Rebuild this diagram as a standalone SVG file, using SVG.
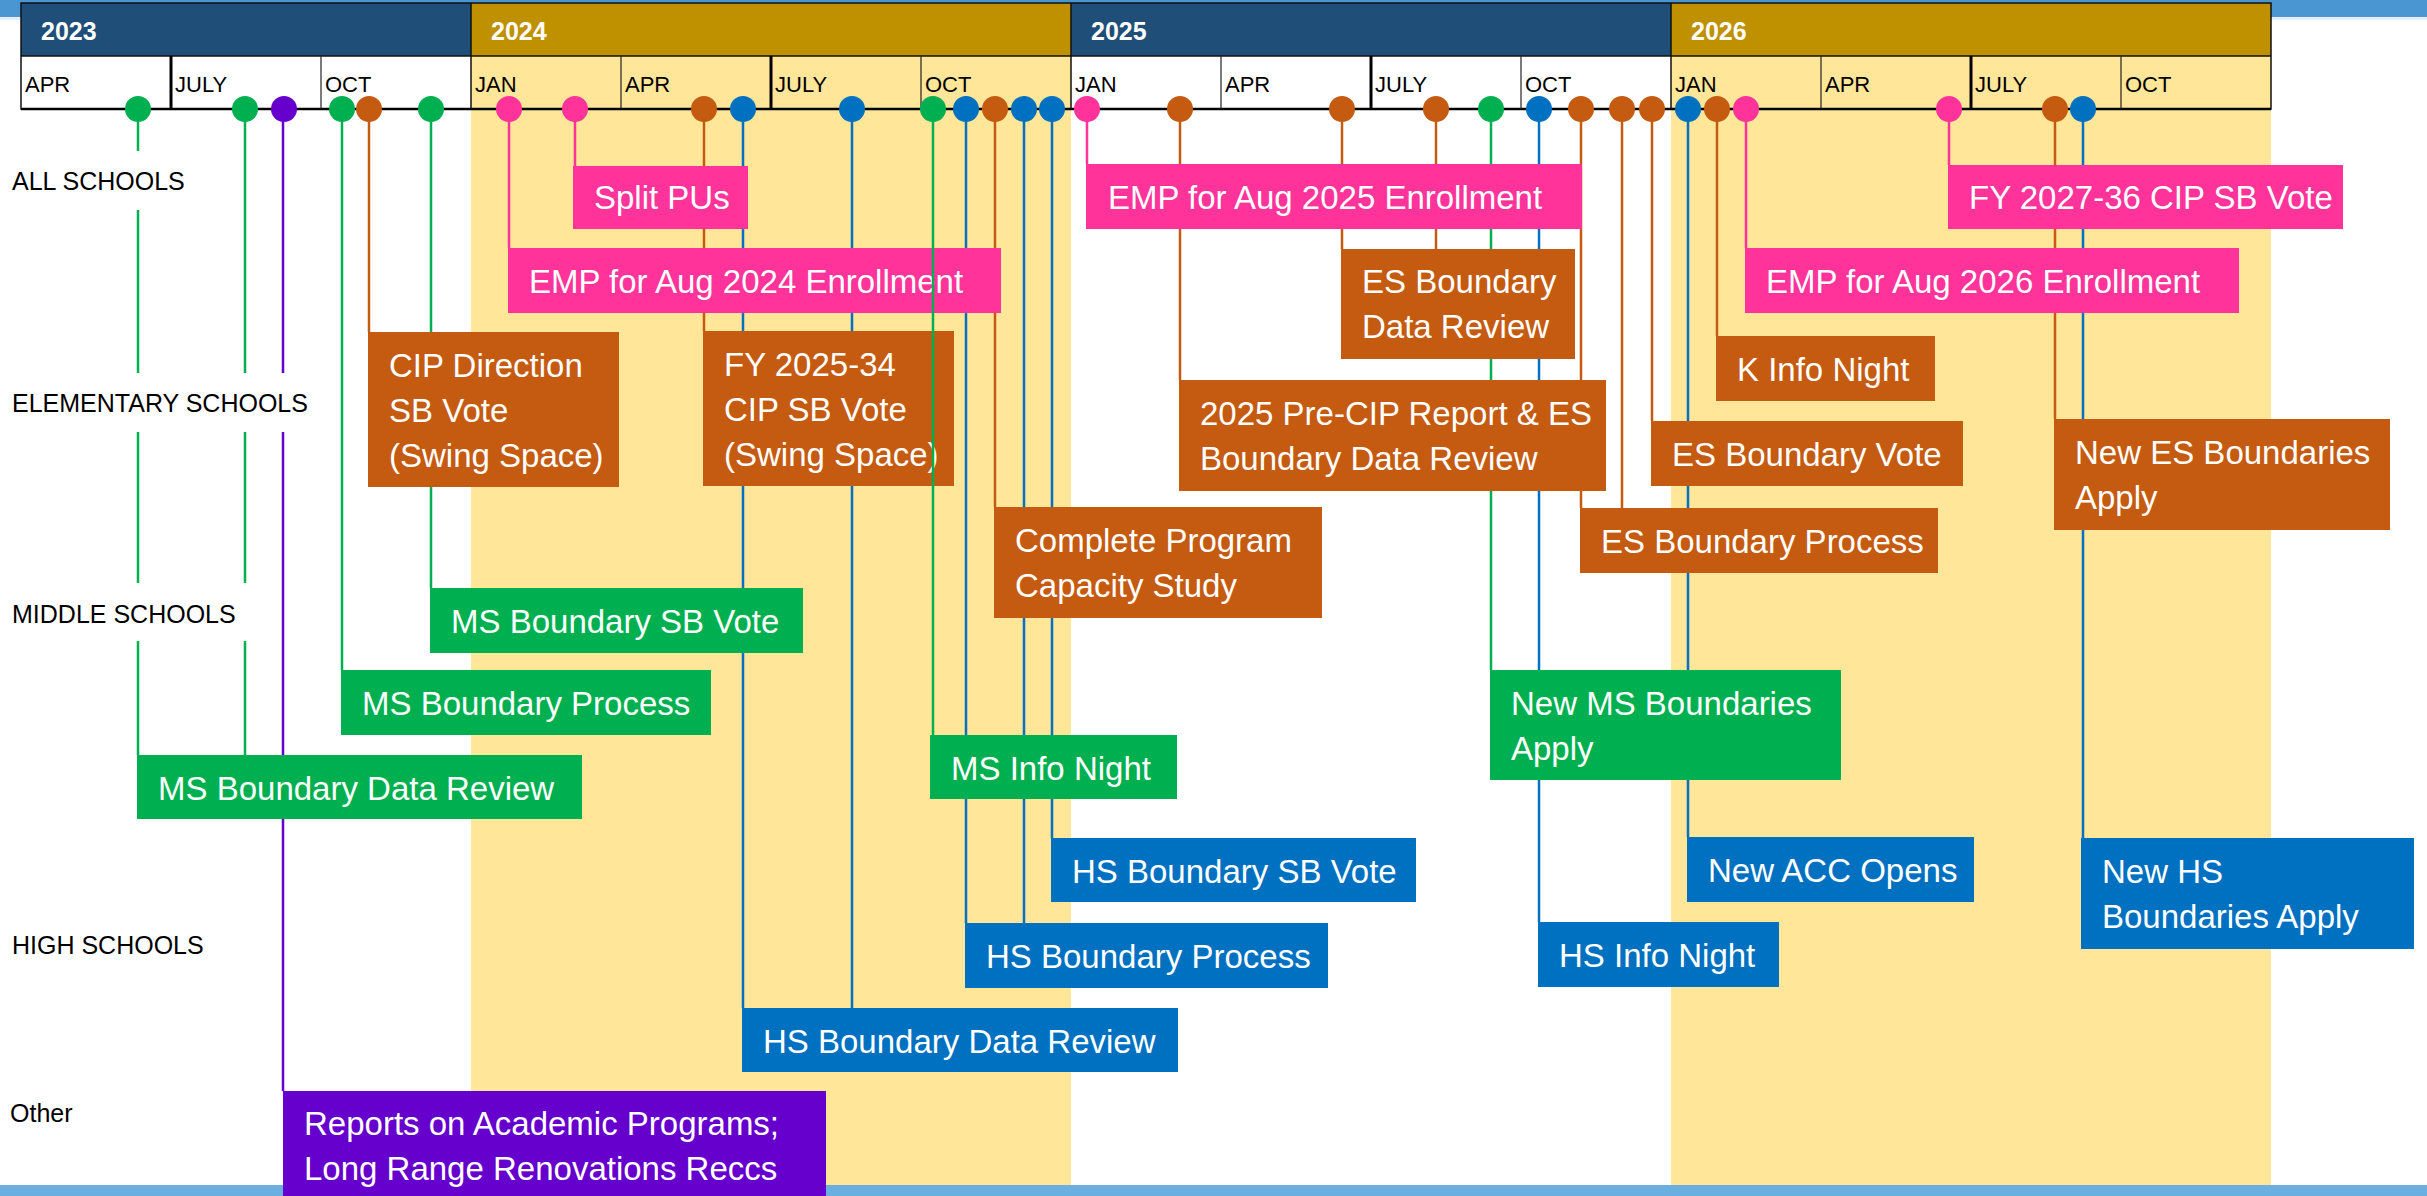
<svg xmlns="http://www.w3.org/2000/svg" width="2427" height="1196" viewBox="0 0 2427 1196">
<style>
.yr{font-family:"Liberation Sans",Arial,sans-serif;font-weight:bold;font-size:25px;fill:#fff}
.mo{font-family:"Liberation Sans",Arial,sans-serif;font-size:22px;fill:#000}
.row{font-family:"Liberation Sans",Arial,sans-serif;font-size:25px;fill:#000}
.bt{font-family:"Liberation Sans",Arial,sans-serif;font-size:33px;fill:#fff}
.pk{fill:#FF3399}.or{fill:#C55A11}.gr{fill:#00B050}.bl{fill:#0070C0}.pu{fill:#6600CC}
.lpk{stroke:#FF3399}.lor{stroke:#C55A11}.lgr{stroke:#00B050}.lbl{stroke:#0070C0}.lpu{stroke:#6600CC}
#connectors line,#connectors-front line{stroke-width:2.5}
.thin{stroke:#222;stroke-width:1.2}
.thick{stroke:#000;stroke-width:3}
</style>
<rect x="0" y="0" width="2427" height="1196" fill="#fff"/>
<!-- slide bands -->
<rect x="0" y="0" width="2427" height="17" fill="#4A96D2"/>
<rect x="0" y="17" width="2427" height="3" fill="#E6EDF4"/>
<rect x="0" y="1185" width="2427" height="11" fill="#6AAFDF"/>
<!-- highlighted years -->
<rect x="471" y="56" width="600" height="1129" fill="#FFE699"/>
<rect x="1671" y="56" width="600" height="1129" fill="#FFE699"/>
<!-- header -->
<g id="header">
<rect x="21" y="3" width="450" height="53" fill="#1F4E79"/>
<rect x="471" y="3" width="600" height="53" fill="#BF9000"/>
<rect x="1071" y="3" width="600" height="53" fill="#1F4E79"/>
<rect x="1671" y="3" width="600" height="53" fill="#BF9000"/>
<rect x="21" y="56" width="450" height="53" fill="#fff"/>
<rect x="1071" y="56" width="600" height="53" fill="#fff"/>
<rect x="21" y="3" width="2250" height="106" fill="none" stroke="#111" stroke-width="1.5"/>
<line x1="21" y1="56" x2="2271" y2="56" stroke="#111" stroke-width="1.5"/>
<line x1="21" y1="109" x2="2271" y2="109" stroke="#000" stroke-width="2.5"/>
<line x1="471" y1="3" x2="471" y2="109" stroke="#111" stroke-width="1.5"/>
<line x1="1071" y1="3" x2="1071" y2="109" stroke="#111" stroke-width="1.5"/>
<line x1="1671" y1="3" x2="1671" y2="109" stroke="#111" stroke-width="1.5"/>
<line class="thick" x1="171" y1="56" x2="171" y2="109"/>
<line class="thin" x1="321" y1="56" x2="321" y2="109"/>
<line class="thin" x1="621" y1="56" x2="621" y2="109"/>
<line class="thick" x1="771" y1="56" x2="771" y2="109"/>
<line class="thin" x1="921" y1="56" x2="921" y2="109"/>
<line class="thin" x1="1221" y1="56" x2="1221" y2="109"/>
<line class="thick" x1="1371" y1="56" x2="1371" y2="109"/>
<line class="thin" x1="1521" y1="56" x2="1521" y2="109"/>
<line class="thin" x1="1821" y1="56" x2="1821" y2="109"/>
<line class="thick" x1="1971" y1="56" x2="1971" y2="109"/>
<line class="thin" x1="2121" y1="56" x2="2121" y2="109"/>
<text class="yr" x="41" y="40">2023</text>
<text class="yr" x="491" y="40">2024</text>
<text class="yr" x="1091" y="40">2025</text>
<text class="yr" x="1691" y="40">2026</text>
<text class="mo" x="25" y="92">APR</text>
<text class="mo" x="175" y="92">JULY</text>
<text class="mo" x="325" y="92">OCT</text>
<text class="mo" x="475" y="92">JAN</text>
<text class="mo" x="625" y="92">APR</text>
<text class="mo" x="775" y="92">JULY</text>
<text class="mo" x="925" y="92">OCT</text>
<text class="mo" x="1075" y="92">JAN</text>
<text class="mo" x="1225" y="92">APR</text>
<text class="mo" x="1375" y="92">JULY</text>
<text class="mo" x="1525" y="92">OCT</text>
<text class="mo" x="1675" y="92">JAN</text>
<text class="mo" x="1825" y="92">APR</text>
<text class="mo" x="1975" y="92">JULY</text>
<text class="mo" x="2125" y="92">OCT</text>
</g>
<!-- connectors (behind boxes) -->
<g id="connectors">
<line class="lgr" x1="138" y1="109" x2="138" y2="755"/>
<line class="lgr" x1="245" y1="109" x2="245" y2="755"/>
<line class="lpu" x1="283" y1="109" x2="283" y2="1091"/>
<line class="lgr" x1="342" y1="109" x2="342" y2="670"/>
<line class="lor" x1="369" y1="109" x2="369" y2="332"/>
<line class="lgr" x1="431" y1="109" x2="431" y2="588"/>
<line class="lpk" x1="509" y1="109" x2="509" y2="248"/>
<line class="lpk" x1="575" y1="109" x2="575" y2="166"/>
<line class="lor" x1="704" y1="109" x2="704" y2="331"/>
<line class="lbl" x1="743" y1="109" x2="743" y2="1008"/>
<line class="lbl" x1="852" y1="109" x2="852" y2="1008"/>
<line class="lbl" x1="966" y1="109" x2="966" y2="923"/>
<line class="lor" x1="995" y1="109" x2="995" y2="507"/>
<line class="lbl" x1="1024" y1="109" x2="1024" y2="923"/>
<line class="lbl" x1="1052" y1="109" x2="1052" y2="838"/>
<line class="lpk" x1="1087" y1="109" x2="1087" y2="164"/>
<line class="lor" x1="1180" y1="109" x2="1180" y2="380"/>
<line class="lor" x1="1342" y1="109" x2="1342" y2="249"/>
<line class="lor" x1="1436" y1="109" x2="1436" y2="249"/>
<line class="lgr" x1="1491" y1="109" x2="1491" y2="670"/>
<line class="lbl" x1="1539" y1="109" x2="1539" y2="922"/>
<line class="lor" x1="1581" y1="109" x2="1581" y2="508"/>
<line class="lor" x1="1622" y1="109" x2="1622" y2="508"/>
<line class="lor" x1="1652" y1="109" x2="1652" y2="421"/>
<line class="lbl" x1="1688" y1="109" x2="1688" y2="837"/>
<line class="lor" x1="1717" y1="109" x2="1717" y2="336"/>
<line class="lpk" x1="1746" y1="109" x2="1746" y2="248"/>
<line class="lpk" x1="1949" y1="109" x2="1949" y2="165"/>
<line class="lor" x1="2055" y1="109" x2="2055" y2="419"/>
<line class="lbl" x1="2083" y1="109" x2="2083" y2="838"/>
</g>
<!-- nodes -->
<g id="n-split-pus"><rect class="pk" x="573" y="166" width="175" height="63"/><text class="bt" x="594" y="209">Split PUs</text></g>
<g id="n-emp-2024"><rect class="pk" x="508" y="248" width="493" height="65"/><text class="bt" x="529" y="293">EMP for Aug 2024 Enrollment</text></g>
<g id="n-cip-direction"><rect class="or" x="368" y="332" width="251" height="155"/><text class="bt" x="389" y="377">CIP Direction</text><text class="bt" x="389" y="422">SB Vote</text><text class="bt" x="389" y="467">(Swing Space)</text></g>
<g id="n-fy2025-34"><rect class="or" x="703" y="331" width="251" height="155"/><text class="bt" x="724" y="376">FY 2025-34</text><text class="bt" x="724" y="421">CIP SB Vote</text><text class="bt" x="724" y="466">(Swing Space)</text></g>
<g id="n-capacity-study"><rect class="or" x="994" y="507" width="328" height="111"/><text class="bt" x="1015" y="552">Complete Program</text><text class="bt" x="1015" y="597">Capacity Study</text></g>
<g id="n-ms-sb-vote"><rect class="gr" x="430" y="588" width="373" height="65"/><text class="bt" x="451" y="633">MS Boundary SB Vote</text></g>
<g id="n-ms-process"><rect class="gr" x="341" y="670" width="370" height="65"/><text class="bt" x="362" y="715">MS Boundary Process</text></g>
<g id="n-ms-data-review"><rect class="gr" x="137" y="755" width="445" height="64"/><text class="bt" x="158" y="800">MS Boundary Data Review</text></g>
<g id="n-ms-info-night"><rect class="gr" x="930" y="735" width="247" height="64"/><text class="bt" x="951" y="780">MS Info Night</text></g>
<g id="n-hs-sb-vote"><rect class="bl" x="1051" y="838" width="365" height="64"/><text class="bt" x="1072" y="883">HS Boundary SB Vote</text></g>
<g id="n-hs-process"><rect class="bl" x="965" y="923" width="363" height="65"/><text class="bt" x="986" y="968">HS Boundary Process</text></g>
<g id="n-hs-data-review"><rect class="bl" x="742" y="1008" width="436" height="64"/><text class="bt" x="763" y="1053">HS Boundary Data Review</text></g>
<g id="n-reports"><rect class="pu" x="283" y="1091" width="543" height="105"/><text class="bt" x="304" y="1135">Reports on Academic Programs;</text><text class="bt" x="304" y="1180">Long Range Renovations Reccs</text></g>
<g id="n-emp-2025"><rect class="pk" x="1086" y="164" width="496" height="65"/><text class="bt" x="1108" y="209">EMP for Aug 2025 Enrollment</text></g>
<g id="n-es-data-review"><rect class="or" x="1341" y="249" width="234" height="110"/><text class="bt" x="1362" y="293">ES Boundary</text><text class="bt" x="1362" y="338">Data Review</text></g>
<g id="n-pre-cip"><rect class="or" x="1179" y="380" width="427" height="111"/><text class="bt" x="1200" y="425">2025 Pre-CIP Report &amp; ES</text><text class="bt" x="1200" y="470">Boundary Data Review</text></g>
<g id="n-k-info-night"><rect class="or" x="1716" y="336" width="219" height="65"/><text class="bt" x="1737" y="381">K Info Night</text></g>
<g id="n-es-vote"><rect class="or" x="1651" y="421" width="312" height="65"/><text class="bt" x="1672" y="466">ES Boundary Vote</text></g>
<g id="n-es-process"><rect class="or" x="1580" y="508" width="358" height="65"/><text class="bt" x="1601" y="553">ES Boundary Process</text></g>
<g id="n-fy2027-36"><rect class="pk" x="1948" y="165" width="395" height="64"/><text class="bt" x="1969" y="209">FY 2027-36 CIP SB Vote</text></g>
<g id="n-emp-2026"><rect class="pk" x="1745" y="248" width="494" height="65"/><text class="bt" x="1766" y="293">EMP for Aug 2026 Enrollment</text></g>
<g id="n-new-es"><rect class="or" x="2054" y="419" width="336" height="111"/><text class="bt" x="2075" y="464">New ES Boundaries</text><text class="bt" x="2075" y="509">Apply</text></g>
<g id="n-new-ms"><rect class="gr" x="1490" y="670" width="351" height="110"/><text class="bt" x="1511" y="715">New MS Boundaries</text><text class="bt" x="1511" y="760">Apply</text></g>
<g id="n-new-acc"><rect class="bl" x="1687" y="837" width="287" height="65"/><text class="bt" x="1708" y="882">New ACC Opens</text></g>
<g id="n-hs-info-night"><rect class="bl" x="1538" y="922" width="241" height="65"/><text class="bt" x="1559" y="967">HS Info Night</text></g>
<g id="n-new-hs"><rect class="bl" x="2081" y="838" width="333" height="111"/><text class="bt" x="2102" y="883">New HS</text><text class="bt" x="2102" y="928">Boundaries Apply</text></g>
<!-- connector drawn over boxes -->
<g id="connectors-front">
<line class="lgr" x1="933" y1="109" x2="933" y2="735"/>
</g>
<!-- row labels -->
<g id="row-labels">
<rect x="4" y="151" width="196" height="59" fill="#fff"/>
<text class="row" x="12" y="190">ALL SCHOOLS</text>
<rect x="4" y="373" width="316" height="59" fill="#fff"/>
<text class="row" x="12" y="412">ELEMENTARY SCHOOLS</text>
<rect x="4" y="583" width="252" height="58" fill="#fff"/>
<text class="row" x="12" y="623">MIDDLE SCHOOLS</text>
<text class="row" x="12" y="954">HIGH SCHOOLS</text>
<text class="row" x="10" y="1122">Other</text>
</g>
<!-- markers -->
<g id="markers">
<circle class="gr" cx="138" cy="109" r="13"/>
<circle class="gr" cx="245" cy="109" r="13"/>
<circle class="pu" cx="284" cy="109" r="13"/>
<circle class="gr" cx="342" cy="109" r="13"/>
<circle class="or" cx="369" cy="109" r="13"/>
<circle class="gr" cx="431" cy="109" r="13"/>
<circle class="pk" cx="509" cy="109" r="13"/>
<circle class="pk" cx="575" cy="109" r="13"/>
<circle class="or" cx="704" cy="109" r="13"/>
<circle class="bl" cx="743" cy="109" r="13"/>
<circle class="bl" cx="852" cy="109" r="13"/>
<circle class="gr" cx="933" cy="109" r="13"/>
<circle class="bl" cx="966" cy="109" r="13"/>
<circle class="or" cx="995" cy="109" r="13"/>
<circle class="bl" cx="1024" cy="109" r="13"/>
<circle class="bl" cx="1052" cy="109" r="13"/>
<circle class="pk" cx="1087" cy="109" r="13"/>
<circle class="or" cx="1180" cy="109" r="13"/>
<circle class="or" cx="1342" cy="109" r="13"/>
<circle class="or" cx="1436" cy="109" r="13"/>
<circle class="gr" cx="1491" cy="109" r="13"/>
<circle class="bl" cx="1539" cy="109" r="13"/>
<circle class="or" cx="1581" cy="109" r="13"/>
<circle class="or" cx="1622" cy="109" r="13"/>
<circle class="or" cx="1652" cy="109" r="13"/>
<circle class="bl" cx="1688" cy="109" r="13"/>
<circle class="or" cx="1717" cy="109" r="13"/>
<circle class="pk" cx="1746" cy="109" r="13"/>
<circle class="pk" cx="1949" cy="109" r="13"/>
<circle class="or" cx="2055" cy="109" r="13"/>
<circle class="bl" cx="2083" cy="109" r="13"/>
</g>
</svg>
